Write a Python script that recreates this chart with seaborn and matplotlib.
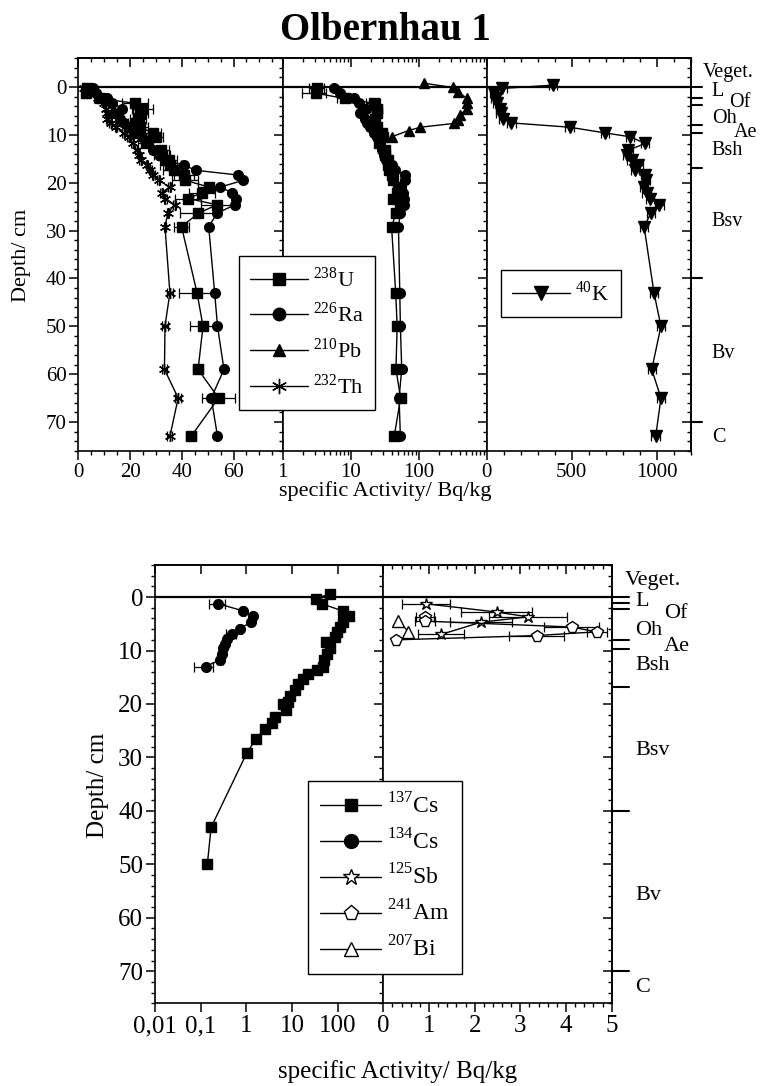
import numpy as np
import seaborn as sns
import matplotlib.pyplot as plt
import matplotlib.transforms as mtransforms
from matplotlib.lines import Line2D
from matplotlib.ticker import FixedLocator, LogLocator, MultipleLocator, NullFormatter

# ---------- upper figure: natural radionuclides ----------
depth = [0.3, 1.3, 2.4, 3.4, 4.5, 5.5, 6.6, 7.5, 8.4, 9.6, 10.4, 11.8, 13.2, 14.2, 15.3,
         16.3, 17.4, 18.4, 19.5, 20.9, 22.1, 23.3, 24.6, 26.4, 29.2, 43, 50, 59, 65, 73]
u238 = [3.2, 3.1, 8.2, 21.9, 24.7, 24.0, 23.0, 22.2, 24.0, 28.8, 29.9, 26.0, 32.0, 32.4, 35.0,
        35.6, 36.9, 40.8, 41.4, 50.4, 47.8, 42.4, 53.6, 46.3, 39.9, 45.9, 48.2, 46.3, 54.2, 43.6]
u238_err = [0.8, 1.2, 2, 5, 4, 3, 3, 3, 3, 3, 3, 3, 3, 3, 3,
            4, 4, 4, 5, 4, 5, 5, 6, 7, 3, 7, 5, 2, 6.5, 2]
ra226 = [5.6, 7.0, 11.0, 13.2, 17.0, 13.8, 16.0, 17.5, 19.5, 22.0, 24.5, 26.7, 29.0, 31.0, 33.5,
         40.8, 45.3, 61.9, 63.8, 54.9, 59.4, 61.0, 60.5, 53.6, 50.4, 52.7, 53.8, 56.3, 51.4, 53.8]
th232 = [2.3, 3.5, 7.5, 10.0, 10.8, 11.0, 11.2, 12.5, 14.5, 17.5, 19.5, 21.0, 22.5, 23.5, 24.1,
         26.5, 27.8, 29.0, 31.0, 35.3, 32.2, 33.7, 37.2, 34.6, 33.5, 35.4, 33.5, 33.3, 38.6, 35.4]
th232_err = [0.5] * 25 + [1.2, 1.2, 1.0, 1.2, 1.0]

depth_pb = [-0.8, 0.1, 1.0, 2.4, 3.4, 4.5, 5.9, 6.9, 7.6, 8.4, 9.1, 10.4]
pb210 = [120, 315, 380, 513, 520, 510, 400, 380, 336, 106, 71, 40]

depth_k = [-0.4] + depth
k40 = [390, 92, 43, 53, 62, 78, 82, 98, 145, 488, 697, 844, 932, 834, 824, 853,
       892, 873, 932, 937, 926, 941, 961, 1015, 965, 926, 984, 1025, 971, 1025, 994]
k40_err = [25] * 31

# ---------- lower figure: artificial radionuclides ----------
depth_cs137 = [-0.6, 0.3, 1.25, 2.6, 3.6, 4.7, 5.6, 6.5, 7.5, 8.4, 9.5, 10.6, 11.8, 13.0, 13.7,
               14.3, 15.3, 16.2, 17.4, 18.6, 19.6, 20.0, 21.2, 22.5, 23.5, 24.6, 26.5, 29.2, 43.1, 50.0]
cs137 = [68, 33.6, 44.8, 129, 180, 133, 113, 98, 87, 57, 68, 59, 50, 47, 35,
         23, 17.6, 13.8, 11.7, 9.1, 8.3, 6.5, 7.4, 4.25, 3.6, 2.57, 1.63, 1.02, 0.169, 0.14]
cs137_err = [3, 2, 2, 4, 5, 4, 4, 3, 3, 2, 2, 2, 2, 2, 1.5,
             1, 0.8, 0.6, 0.5, 0.4, 0.4, 0.3, 0.3, 0.2, 0.2, 0.12, 0.08, 0.05, 0.04, 0.03]
depth_cs134 = [1.25, 2.6, 3.6, 4.7, 5.9, 6.9, 7.8, 8.7, 9.6, 10.6, 11.7, 13.0]
cs134 = [0.244, 0.86, 1.38, 1.25, 0.73, 0.48, 0.37, 0.34, 0.31, 0.30, 0.265, 0.13]
cs134_err = [0.09, 0.08, 0.1, 0.1, 0.08, 0.12, 0.05, 0.05, 0.04, 0.04, 0.04, 0.06]
depth_sb = [1.25, 2.8, 3.7, 4.7, 7.0]
sb125 = [0.93, 2.48, 3.17, 2.14, 1.26]
sb125_err = [0.53, 0.77, 0.86, 0.68, 0.5]
depth_am = [3.7, 4.5, 5.6, 6.5, 7.2, 8.0]
am241 = [0.91, 0.91, 4.12, 4.67, 3.36, 0.28]
am241_err = [0.2, 0.22, 0.6, 0.22, 0.6, 0.05]
depth_bi = [4.4, 6.5]
bi207 = [0.33, 0.55]

# soil horizons
hor_labels = ["Veget.", "L", "Of", "Oh", "Ae", "Bsh", "Bsv", "Bv", "C"]
hor_pos_top = [-3.1, 1.0, 3.2, 6.6, 9.6, 13.2, 28.2, 55.6, 73.2]
hor_pos_bot = [-3.1, 0.9, 3.05, 6.2, 9.2, 12.8, 28.7, 55.8, 73.0]
hor_bounds_top = [0, 2.2, 3.7, 7.9, 9.6, 16.9, 40, 70]
hor_bounds_bot = [0, 1.2, 2.3, 8.1, 9.8, 16.8, 40, 70]

sns.set_style("ticks")
plt.rcParams["font.family"] = ["Liberation Serif", "DejaVu Serif"]
plt.rcParams["mathtext.fontset"] = "custom"
plt.rcParams["mathtext.rm"] = "Liberation Serif"
plt.rcParams["axes.linewidth"] = 1.2
plt.rcParams["axes.edgecolor"] = "black"
plt.rcParams["text.color"] = "black"
plt.rcParams["xtick.color"] = "black"
plt.rcParams["ytick.color"] = "black"

fig = plt.figure(figsize=(7.62, 10.86), dpi=100)
W, H = 762.0, 1086.0


def new_ax(x0, y0, x1, y1):
    return fig.add_axes([x0 / W, 1 - y1 / H, (x1 - x0) / W, (y1 - y0) / H])


ax1 = new_ax(78.3, 58.3, 282.7, 450.7)
ax2 = new_ax(282.7, 58.3, 486.7, 450.7)
ax3 = new_ax(486.7, 58.3, 690.7, 450.7)
bx1 = new_ax(155.0, 565.0, 383.3, 1003.3)
bx2 = new_ax(383.3, 565.0, 611.7, 1003.3)

ax2.set_xscale("log")
bx1.set_xscale("log")


def series(ax, x, y, marker, ms, xerr=None, filled=True):
    if xerr is not None:
        ax.errorbar(x, y, xerr=xerr, fmt="none", ecolor="black", elinewidth=0.9,
                    capsize=3.5, capthick=0.9, zorder=2)
    sns.lineplot(x=x, y=y, ax=ax, sort=False, estimator=None, color="black",
                 linewidth=1.0, marker=marker, markersize=ms,
                 markerfacecolor="black" if filled else "white",
                 markeredgecolor="black", markeredgewidth=1.0, zorder=3)


star6 = (6, 2, 0)
series(ax1, th232, depth, star6, 8, xerr=th232_err)
series(ax1, u238, depth, "s", 6.5, xerr=u238_err)
series(ax1, ra226, depth, "o", 7)

series(ax2, u238, depth, "s", 6.5, xerr=u238_err)
series(ax2, ra226, depth, "o", 7)
series(ax2, pb210, depth_pb, "^", 7.5)

series(ax3, k40, depth_k, "v", 8, xerr=k40_err)

series(bx1, cs137, depth_cs137, "s", 6.5, xerr=cs137_err)
series(bx1, cs134, depth_cs134, "o", 7, xerr=cs134_err)

series(bx2, sb125, depth_sb, "*", 9, xerr=sb125_err, filled=False)
series(bx2, am241, depth_am, "p", 8.5, xerr=am241_err, filled=False)
series(bx2, bi207, depth_bi, "^", 8, filled=False)

top_axes = [ax1, ax2, ax3]
bot_axes = [bx1, bx2]

ax1.set_xlim(0, 79)
ax2.set_xlim(1, 1000)
ax3.set_xlim(0, 1200)
bx1.set_xlim(0.01, 1000)
bx2.set_xlim(0, 5)

for ax, fs in [(a, 15) for a in top_axes] + [(b, 18) for b in bot_axes]:
    ax.set_ylim(76, -6)
    ax.axhline(0, color="black", lw=1.6, zorder=4)
    ax.set_xlabel("")
    ax.set_ylabel("")
    ax.yaxis.set_major_locator(MultipleLocator(10))
    ax.yaxis.set_minor_locator(MultipleLocator(2))
    ax.tick_params(axis="both", which="major", direction="out", length=6.5, width=1.1,
                   labelsize=fs, colors="black", pad=2)
    ax.tick_params(axis="both", which="minor", direction="out", length=3.2, width=1.0)
    for sp in ax.spines.values():
        sp.set_visible(True)
        sp.set_color("black")

for ax in [ax2, ax3, bx2]:
    ax.tick_params(axis="y", labelleft=False)

ax1.xaxis.set_major_locator(FixedLocator([0, 20, 40, 60]))
ax1.xaxis.set_minor_locator(MultipleLocator(5))
ax2.xaxis.set_major_locator(FixedLocator([1, 10, 100]))
ax2.xaxis.set_minor_locator(LogLocator(base=10, subs=np.arange(2, 10)))
ax2.xaxis.set_major_formatter(plt.FixedFormatter(["1", "10", "100"]))
ax2.xaxis.set_minor_formatter(NullFormatter())
ax3.xaxis.set_major_locator(FixedLocator([0, 500, 1000]))
ax3.xaxis.set_minor_locator(MultipleLocator(100))
bx1.xaxis.set_major_locator(FixedLocator([0.01, 0.1, 1, 10, 100]))
bx1.xaxis.set_major_formatter(plt.FixedFormatter(["0,01", "0,1", "1", "10", "100"]))
bx1.xaxis.set_minor_locator(LogLocator(base=10, subs=np.arange(2, 10)))
bx1.xaxis.set_minor_formatter(NullFormatter())
bx2.xaxis.set_major_locator(FixedLocator([0, 1, 2, 3, 4, 5]))
bx2.xaxis.set_minor_locator(MultipleLocator(0.2))

# top ticks pointing into the plot, right ticks of the last panel pointing left
for ax in top_axes + bot_axes:
    sec = ax.secondary_xaxis("top")
    sec.xaxis.set_major_locator(FixedLocator(ax.xaxis.get_majorticklocs()))
    sec.xaxis.set_minor_locator(FixedLocator(ax.xaxis.get_minorticklocs()))
    sec.tick_params(which="major", direction="in", length=6.5, width=1.1, labeltop=False)
    sec.tick_params(which="minor", direction="in", length=3.2, width=1.0)
for ax in [ax3, bx2]:
    sec = ax.secondary_yaxis("right")
    sec.yaxis.set_major_locator(MultipleLocator(10))
    sec.yaxis.set_minor_locator(MultipleLocator(2))
    sec.tick_params(which="major", direction="in", length=6.5, width=1.1, labelright=False)
    sec.tick_params(which="minor", direction="in", length=3.2, width=1.0)


# horizon boundaries and names at the right edge
def horizons(ax, bounds, pos, ext, xs, fs):
    tr = mtransforms.blended_transform_factory(ax.transAxes, ax.transData)
    for b in bounds:
        ax.plot([1, 1 + ext], [b, b], color="black", lw=1.5, transform=tr, clip_on=False)
    for lab, p, x in zip(hor_labels, pos, xs):
        ax.text(x, p, lab, transform=tr, ha="left", va="center", fontsize=fs, clip_on=False)


horizons(ax3, hor_bounds_top, hor_pos_top, 0.057,
         [1.057, 1.103, 1.19, 1.103, 1.21, 1.103, 1.103, 1.103, 1.103], 14.5)
horizons(bx2, hor_bounds_bot, hor_pos_bot, 0.074,
         [1.058, 1.102, 1.229, 1.102, 1.229, 1.102, 1.102, 1.102, 1.102], 16)


# legends, drawn on the figure so the neighbouring panels do not cover them
def handle(marker, ms, filled=True):
    return Line2D([], [], color="black", lw=1.0, marker=marker, markersize=ms,
                  markerfacecolor="black" if filled else "white", markeredgecolor="black")


def legend(handles, labels, x, y, fs, spacing):
    leg = fig.legend(handles, labels, loc="upper left", bbox_to_anchor=(x / W, 1 - y / H),
                     bbox_transform=fig.transFigure, borderaxespad=0, frameon=True,
                     fancybox=False, framealpha=1, edgecolor="black", prop={"size": fs},
                     handlelength=2.6, handletextpad=0.25, labelspacing=spacing, borderpad=0.5)
    leg.get_frame().set_linewidth(1.0)
    return leg


legend([handle("s", 8), handle("o", 9), handle("^", 9), handle(star6, 11)],
       [r"$^{238}$U", r"$^{226}$Ra", r"$^{210}$Pb", r"$^{232}$Th"], 239, 255.7, 16, 0.5)
legend([handle("v", 10)], [r"$^{40}$K"], 501, 270, 16, 0.4)
legend([handle("s", 9), handle("o", 10), handle("*", 12, False), handle("p", 11, False),
        handle("^", 10, False)],
       [r"$^{137}$Cs", r"$^{134}$Cs", r"$^{125}$Sb", r"$^{241}$Am", r"$^{207}$Bi"],
       308.3, 781, 17, 0.45)

fig.text(385 / W, 1 - 30 / H, "Olbernhau 1", ha="center", va="center", fontsize=28,
         fontweight="bold")
fig.text(385 / W, 1 - 491 / H, "specific Activity/ Bq/kg", ha="center", va="center", fontsize=16)
fig.text(398 / W, 1 - 1072 / H, "specific Activity/ Bq/kg", ha="center", va="center", fontsize=18)
fig.text(22 / W, 1 - 255 / H, "Depth/ cm", ha="center", va="center", rotation=90, fontsize=16)
fig.text(98 / W, 1 - 785 / H, "Depth/ cm", ha="center", va="center", rotation=90, fontsize=18)

fig.savefig("out.png", dpi=100)
